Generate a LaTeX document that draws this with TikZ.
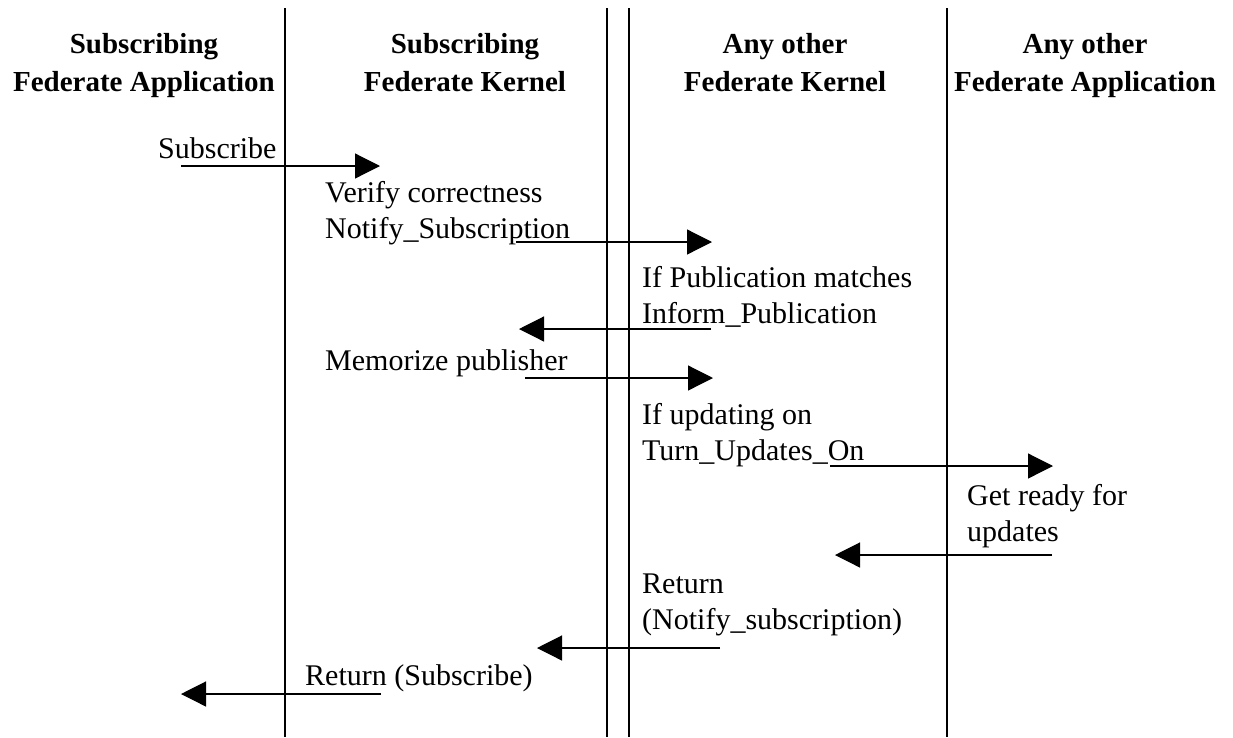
\documentclass[tikz,border=0pt]{standalone}
\usepackage{fontspec}
\setmainfont{Liberation Serif}
\usetikzlibrary{arrows.meta}
\begin{document}
\begin{tikzpicture}[x=1pt,y=-1pt,
  lifeline/.style={line width=1.2pt},
  msg/.style={line width=1.2pt,-{Triangle[length=25pt,width=25pt]}},
  head/.style={font=\fontsize{29}{38}\selectfont\bfseries, align=center, inner sep=0pt, anchor=base},
  note/.style={font=\fontsize{30}{36}\selectfont, align=left, inner sep=0pt, anchor=base west}]
\useasboundingbox (0,0) rectangle (1233,737);

% lifelines
\coordinate (l1t) at (285,8);   \coordinate (l1b) at (285,737);
\coordinate (l2t) at (607,8);   \coordinate (l2b) at (607,737);
\coordinate (l3t) at (629,8);   \coordinate (l3b) at (629,737);
\coordinate (l4t) at (947,8);   \coordinate (l4b) at (947,737);
\draw[lifeline] (l1t) -- (l1b);
\draw[lifeline] (l2t) -- (l2b);
\draw[lifeline] (l3t) -- (l3b);
\draw[lifeline] (l4t) -- (l4b);

% column headings (placed at the baseline of their last line)
\node[head] (h1) at (144,91) {Subscribing\\Federate Application};
\node[head] (h2) at (465,91) {Subscribing\\Federate Kernel};
\node[head] (h3) at (785,91) {Any other\\Federate Kernel};
\node[head] (h4) at (1085,91) {Any other\\Federate Application};

% message labels (placed at the baseline of their last line)
\node[note] (t1) at (158,158) {Subscribe};
\node[note] (t2) at (325,238) {Verify correctness\\Notify\_Subscription};
\node[note] (t3) at (642,323) {If Publication matches\\Inform\_Publication};
\node[note] (t4) at (325,370) {Memorize publisher};
\node[note] (t5) at (642,460) {If updating on\\Turn\_Updates\_On};
\node[note] (t6) at (967,541) {Get ready for\\updates};
\node[note] (t7) at (642,629) {Return\\(Notify\_subscription)};
\node[note] (t8) at (305,685) {Return (Subscribe)};

% message end points
\coordinate (m1a) at (181,166);  \coordinate (m1b) at (380,166);
\coordinate (m2a) at (516,242);  \coordinate (m2b) at (712,242);
\coordinate (m3a) at (711,329);  \coordinate (m3b) at (519,329);
\coordinate (m4a) at (525,378);  \coordinate (m4b) at (713,378);
\coordinate (m5a) at (830,466);  \coordinate (m5b) at (1053,466);
\coordinate (m6a) at (1052,555); \coordinate (m6b) at (835,555);
\coordinate (m7a) at (720,648);  \coordinate (m7b) at (537,648);
\coordinate (m8a) at (381,694);  \coordinate (m8b) at (181,694);

\draw[msg] (m1a) -- (m1b);
\draw[msg] (m2a) -- (m2b);
\draw[msg] (m3a) -- (m3b);
\draw[msg] (m4a) -- (m4b);
\draw[msg] (m5a) -- (m5b);
\draw[msg] (m6a) -- (m6b);
\draw[msg] (m7a) -- (m7b);
\draw[msg] (m8a) -- (m8b);
\end{tikzpicture}
\end{document}
